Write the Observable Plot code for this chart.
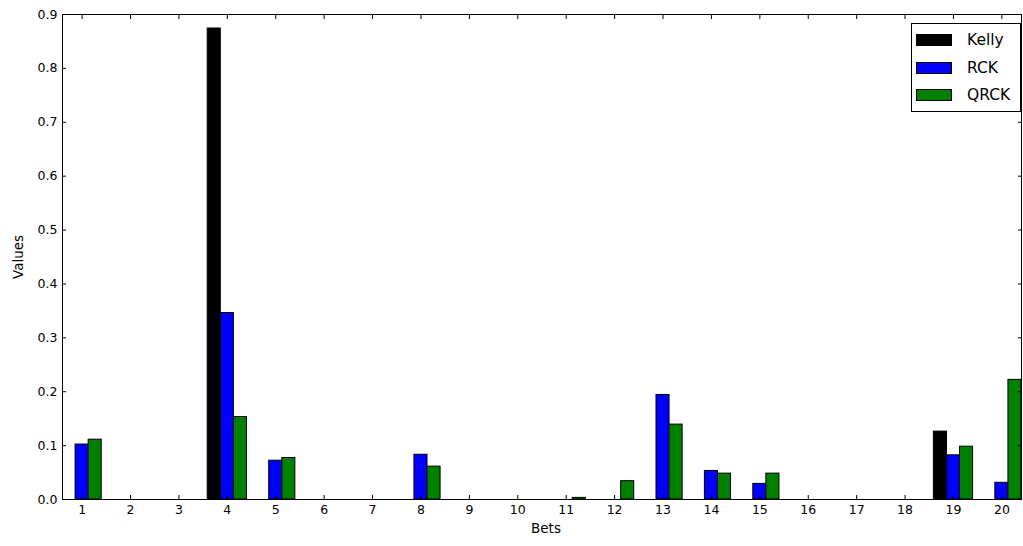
<!DOCTYPE html>
<html>
<head>
<meta charset="utf-8">
<script src="https://cdn.jsdelivr.net/npm/d3@7"></script>
<script src="https://cdn.jsdelivr.net/npm/@observablehq/plot@0.6"></script>
<style>
  html, body { margin: 0; padding: 0; background: #fff; }
  #wrap { position: relative; width: 1023px; height: 546px; font-family: "DejaVu Sans", sans-serif; }
  #legend { position: absolute; left: 911px; top: 23px; width: 110px; height: 89px; border: 1px solid #000; background: #fff; box-sizing: border-box; }
  .row { position: absolute; left: 4px; height: 14px; display: flex; align-items: center; }
  .sw { width: 36px; height: 12px; border: 1px solid #000; box-sizing: border-box; }
  .lb { position: absolute; left: 51px; font-size: 15.5px; color: #000; white-space: nowrap; line-height: 14px; }
</style>
</head>
<body>
<div id="wrap"></div>
<script>
const bets = d3.range(1, 21);
const seriesNames = ["Kelly", "RCK", "QRCK"];
const seriesColors = ["#000000", "#0000ff", "#008000"];
const kelly = [0, 0, 0, 0.874, 0, 0, 0, 0, 0, 0, 0, 0, 0, 0, 0, 0, 0, 0, 0.126, 0];
const rck   = [0.102, 0, 0, 0.346, 0.072, 0, 0, 0.083, 0, 0, 0, 0, 0.194, 0.053, 0.029, 0, 0, 0, 0.082, 0.031];
const qrck  = [0.111, 0, 0, 0.153, 0.077, 0, 0, 0.061, 0, 0, 0.003, 0.034, 0.139, 0.048, 0.048, 0, 0, 0, 0.098, 0.222];
const xTicks = bets;
const yTicks = [0, 0.1, 0.2, 0.3, 0.4, 0.5, 0.6, 0.7, 0.8, 0.9];
const xLabel = "Bets";
const yLabel = "Values";

const barW = 0.27;
const values = [kelly, rck, qrck];
const rows = [];
values.forEach((arr, s) => {
  arr.forEach((v, i) => {
    if (v > 0) rows.push({series: seriesNames[s], bet: bets[i], value: v, off: (s - 1) * barW});
  });
});

const fontStyle = {fontFamily: "DejaVu Sans, sans-serif", fontSize: "12px"};

const chart = Plot.plot({
  width: 1023,
  height: 546,
  marginLeft: 62,
  marginRight: 2,
  marginTop: 14,
  marginBottom: 47,
  style: {...fontStyle, color: "#000", background: "#fff", overflow: "visible"},
  x: {type: "linear", domain: [1 - 1.5 * barW, 20 + 1.5 * barW]},
  y: {domain: [0, 0.9]},
  color: {domain: seriesNames, range: seriesColors},
  marks: [
    Plot.rect(rows, {
      x1: d => d.bet + d.off - barW / 2,
      x2: d => d.bet + d.off + barW / 2,
      y1: 0,
      y2: "value",
      fill: "series",
      stroke: "#000",
      strokeWidth: 1
    }),
    Plot.axisX(xTicks, {anchor: "bottom", tickSize: -4, tickPadding: 10, tickFormat: d => String(d), label: null, fontSize: 12.5}),
    Plot.axisX(xTicks, {anchor: "top", tickSize: -4, tickFormat: () => "", label: null}),
    Plot.axisY(yTicks, {anchor: "left", tickSize: -4, tickPadding: 9, tickFormat: d3.format(".1f"), label: null, fontSize: 12.5}),
    Plot.axisY(yTicks, {anchor: "right", tickSize: -4, tickFormat: () => "", label: null}),
    Plot.text([xLabel], {text: d => d, frameAnchor: "bottom", dx: 4, dy: 33, fontSize: 13.5, fill: "#000", textAnchor: "middle"}),
    Plot.text([yLabel], {text: d => d, frameAnchor: "left", dx: -44, rotate: -90, fontSize: 13.5, fill: "#000", textAnchor: "middle"}),
    Plot.frame({stroke: "#000", strokeWidth: 1})
  ]
});

const wrap = document.getElementById("wrap");
wrap.appendChild(chart);

const legend = document.createElement("div");
legend.id = "legend";
const rowTops = [9, 37, 64];
seriesNames.forEach((name, i) => {
  const r = document.createElement("div");
  r.className = "row";
  r.style.top = rowTops[i] + "px";
  const sw = document.createElement("div");
  sw.className = "sw";
  sw.style.background = seriesColors[i];
  const lb = document.createElement("div");
  lb.className = "lb";
  lb.textContent = name;
  r.appendChild(sw);
  r.appendChild(lb);
  legend.appendChild(r);
});
wrap.appendChild(legend);
</script>
</body>
</html>
